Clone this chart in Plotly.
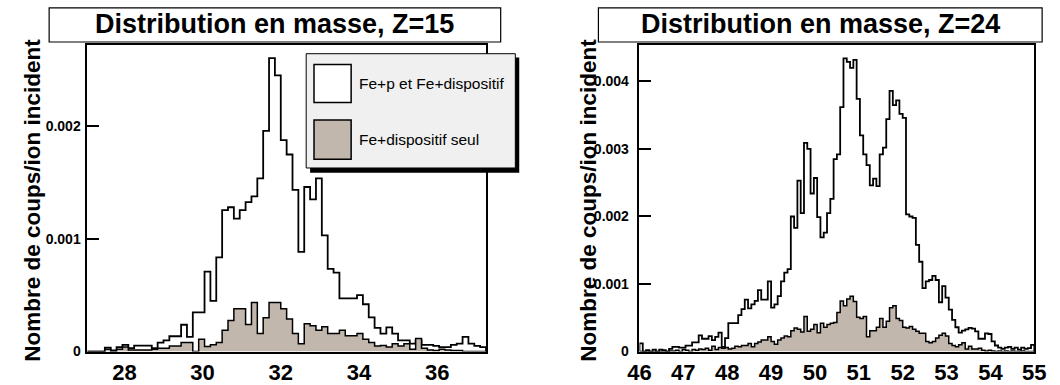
import numpy as np
import plotly.graph_objects as go

W, H = 1060, 385

# ---------------- Z = 15 : 68 bins of 0.15 u ----------------
z15_range = (27.05, 37.25)
z15_xticks = [28, 30, 32, 34, 36]
z15_yticks = [0, 0.001, 0.002]
z15_yticklabels = ["0", "0.001", "0.002"]
# counts per incident ion, in units of 1e-3
z15_total = [
    0, 0, 0, 0.035, 0.01, 0.04, 0.06, 0.03, 0.052, 0.052,
    0.052, 0.03, 0.08, 0.10, 0.136, 0.136, 0.238, 0.13, 0.348, 0.348,
    0.71, 0.45, 0.835, 1.255, 1.28, 1.18, 1.255, 1.325, 1.377, 1.536,
    1.957, 2.603, 2.449, 1.875, 1.748, 1.435, 0.884, 1.46, 1.35, 1.536,
    1.03, 0.733, 0.70, 0.472, 0.472, 0.472, 0.50, 0.42, 0.304, 0.21,
    0.16, 0.215, 0.16, 0.10, 0.10, 0.07, 0.10, 0.06, 0.06, 0.05,
    0.04, 0.04, 0.06, 0.07, 0.13, 0.07, 0.05, 0.04,
]
z15_device = [
    0, 0, 0, 0.02, 0, 0.02, 0.04, 0.015, 0.015, 0.015,
    0.015, 0.02, 0.03, 0.03, 0.05, 0.05, 0.08, 0.08, 0, 0.11,
    0.045, 0.06, 0.08, 0.19, 0.275, 0.38, 0.38, 0.24, 0.435, 0.16,
    0.30, 0.435, 0.435, 0.38, 0.29, 0.16, 0.07, 0.246, 0.23, 0.19,
    0.22, 0.16, 0.16, 0.19, 0.14, 0.14, 0.16, 0.11, 0.08, 0.05,
    0.055, 0.04, 0.07, 0.05, 0.07, 0.02, 0.116, 0.03, 0.015, 0.01,
    0.02, 0.015, 0.01, 0.01, 0, 0, 0, 0,
]

# ---------------- Z = 24 : 120 bins of 0.075 u ----------------
z24_range = (46.0, 55.0)
z24_xticks = list(range(46, 56))
z24_yticks = [0, 0.001, 0.002, 0.003, 0.004]
z24_yticklabels = ["0", "0.001", "0.002", "0.003", "0.004"]
z24_total = [
    0.12, 0, 0.02, 0, 0.03, 0, 0.03, 0.02, 0, 0.04,
    0.07, 0.07, 0.06, 0.06, 0.087, 0.087, 0.135, 0.135, 0.24, 0.19,
    0.19, 0.23, 0.17, 0.217, 0.28, 0.07, 0.20, 0.42, 0.42, 0.42,
    0.54, 0.63, 0.77, 0.64, 0.70, 0.75, 0.91, 0.77, 0.77, 1.04,
    0.65, 0.70, 0.82, 1.04, 1.17, 1.22, 2.00, 1.83, 2.53, 2.05,
    3.09, 3.00, 2.34, 2.57, 1.99, 1.69, 1.76, 2.05, 2.26, 2.85,
    2.92, 3.62, 4.34, 4.29, 4.20, 4.32, 3.74, 3.20, 2.92, 2.76,
    2.46, 2.56, 2.45, 2.92, 3.02, 3.44, 3.86, 3.65, 3.72, 3.52,
    3.46, 2.03, 2.00, 1.98, 1.58, 1.33, 0.94, 1.04, 1.06, 1.12,
    1.06, 0.73, 0.97, 0.80, 0.62, 0.47, 0.36, 0.28, 0.31, 0.33,
    0.35, 0.34, 0.30, 0.19, 0.19, 0.27, 0.26, 0.15, 0.09, 0.06,
    0.04, 0.06, 0.07, 0.04, 0.06, 0.03, 0.06, 0.04, 0.05, 0.10,
]
z24_device = [
    0, 0, 0, 0, 0, 0, 0, 0.01, 0, 0.01,
    0.01, 0.02, 0, 0.03, 0.02, 0, 0.03, 0.02, 0.04, 0.03,
    0.05, 0.02, 0.08, 0.03, 0.06, 0.05, 0.06, 0.04, 0.05, 0.08,
    0.07, 0.09, 0.09, 0.12, 0.07, 0.12, 0.14, 0.17, 0.17, 0.22,
    0.15, 0.11, 0.17, 0.20, 0.23, 0.22, 0.31, 0.35, 0.33, 0.29,
    0.52, 0.30, 0.33, 0.40, 0.28, 0.42, 0.36, 0.40, 0.42, 0.43,
    0.58, 0.75, 0.68, 0.78, 0.82, 0.74, 0.51, 0.49, 0.52, 0.22,
    0.31, 0.31, 0.36, 0.49, 0.36, 0.45, 0.65, 0.68, 0.49, 0.46,
    0.36, 0.35, 0.37, 0.33, 0.30, 0.27, 0.27, 0.15, 0.13, 0.15,
    0.20, 0.24, 0.27, 0.23, 0.12, 0.09, 0.07, 0.10, 0.13, 0.04,
    0.08, 0.04, 0.04, 0.05, 0.02, 0.01, 0.02, 0.01, 0, 0.01,
    0, 0.01, 0, 0.01, 0, 0, 0.01, 0, 0, 0,
]

titles = ["Distribution en masse, Z=15", "Distribution en masse, Z=24"]
ytitle = "Nombre de coups/ion incident"
legend_labels = ["Fe+p et Fe+dispositif", "Fe+dispositif seul"]

FILL = "#c2b7ac"
FONT = "Liberation Sans"


def step_xy(lo, hi, vals):
    n = len(vals)
    edges = np.linspace(lo, hi, n + 1)
    y = np.asarray(vals, dtype=float) * 1e-3
    xs = np.concatenate([[edges[0]], edges[:-1], [edges[-1]], [edges[-1]]])
    ys = np.concatenate([[0.0], y, [y[-1]], [0.0]])
    return xs, ys


def px(x):
    return x / W


def py(y):
    return 1 - y / H


fig = go.Figure()

panels = [
    ("x", "y", z15_range, z15_total, z15_device),
    ("x2", "y2", z24_range, z24_total, z24_device),
]
for xa, ya, rng, tot, dev in panels:
    xs, ys = step_xy(rng[0], rng[1], tot)
    fig.add_trace(go.Scatter(x=xs, y=ys, xaxis=xa, yaxis=ya, mode="lines",
                             line=dict(shape="hv", color="black", width=1.8),
                             showlegend=False, hoverinfo="skip"))
    xs, ys = step_xy(rng[0], rng[1], dev)
    fig.add_trace(go.Scatter(x=xs, y=ys, xaxis=xa, yaxis=ya, mode="lines",
                             line=dict(shape="hv", color="black", width=1.5),
                             fill="tozeroy", fillcolor=FILL,
                             showlegend=False, hoverinfo="skip"))

ydom = [py(360), py(46)]
common_x = dict(showline=True, linecolor="black", linewidth=1.5, mirror=True,
                showgrid=False, zeroline=False, ticks="",
                ticklabeloverflow="allow",
                tickfont=dict(family=FONT, size=22, color="black", weight="bold"))
common_y = dict(showline=True, linecolor="black", linewidth=1.5, mirror=True,
                showgrid=False, zeroline=False, ticks="inside", ticklen=12,
                tickwidth=1.5, tickcolor="black",
                tickfont=dict(family=FONT, size=14, color="black", weight="bold"))

fig.update_layout(
    width=W, height=H,
    margin=dict(l=0, r=0, t=0, b=0),
    paper_bgcolor="white", plot_bgcolor="white",
    showlegend=False,
    xaxis=dict(domain=[px(77), px(485)], range=list(z15_range), anchor="y",
               tickvals=z15_xticks, **common_x),
    yaxis=dict(domain=ydom, range=[0, 0.00272], anchor="x",
               tickvals=z15_yticks, ticktext=z15_yticklabels,
               ticklabelstandoff=2, **common_y),
    xaxis2=dict(domain=[px(642), px(1046)], range=list(z24_range), anchor="y2",
                tickvals=z24_xticks, **common_x),
    yaxis2=dict(domain=ydom, range=[0, 0.00454], anchor="x2",
                tickvals=z24_yticks, ticktext=z24_yticklabels,
                ticklabelstandoff=6, **common_y),
)

shapes = []
annotations = []

# title boxes
for (x0, x1), title in zip([(38, 500), (600, 1054)], titles):
    shapes.append(dict(type="rect", xref="paper", yref="paper",
                       x0=px(x0), x1=px(x1), y0=py(43), y1=py(8),
                       line=dict(color="black", width=1.2), fillcolor="white"))
    annotations.append(dict(xref="paper", yref="paper", x=px((x0 + x1) / 2), y=py(25),
                            text=title, showarrow=False, xanchor="center", yanchor="middle",
                            font=dict(family=FONT, size=27, color="black", weight="bold")))

# vertical axis titles
for xc in (21, 590):
    annotations.append(dict(xref="paper", yref="paper", x=px(xc), y=py(205),
                            text=ytitle, textangle=-90, showarrow=False,
                            xanchor="center", yanchor="middle",
                            font=dict(family=FONT, size=22.5, color="black", weight="bold")))

# legend box with drop shadow
shapes.append(dict(type="rect", xref="paper", yref="paper",
                   x0=px(305), x1=px(519), y0=py(177), y1=py(59),
                   line=dict(width=0), fillcolor="black"))
shapes.append(dict(type="rect", xref="paper", yref="paper",
                   x0=px(301), x1=px(515), y0=py(172), y1=py(55),
                   line=dict(color="black", width=1), fillcolor="#f0f0f0"))
for (y0, y1), fc, label in zip([(66, 105), (123, 163)], ["white", FILL], legend_labels):
    shapes.append(dict(type="rect", xref="paper", yref="paper",
                       x0=px(309), x1=px(347), y0=py(y1), y1=py(y0),
                       line=dict(color="black", width=1.5), fillcolor=fc))
    annotations.append(dict(xref="paper", yref="paper", x=px(353), y=py((y0 + y1) / 2),
                            text=label, showarrow=False, xanchor="left", yanchor="middle",
                            font=dict(family=FONT, size=15.5, color="black")))

fig.update_layout(shapes=shapes, annotations=annotations)
fig.write_html("out.html")
